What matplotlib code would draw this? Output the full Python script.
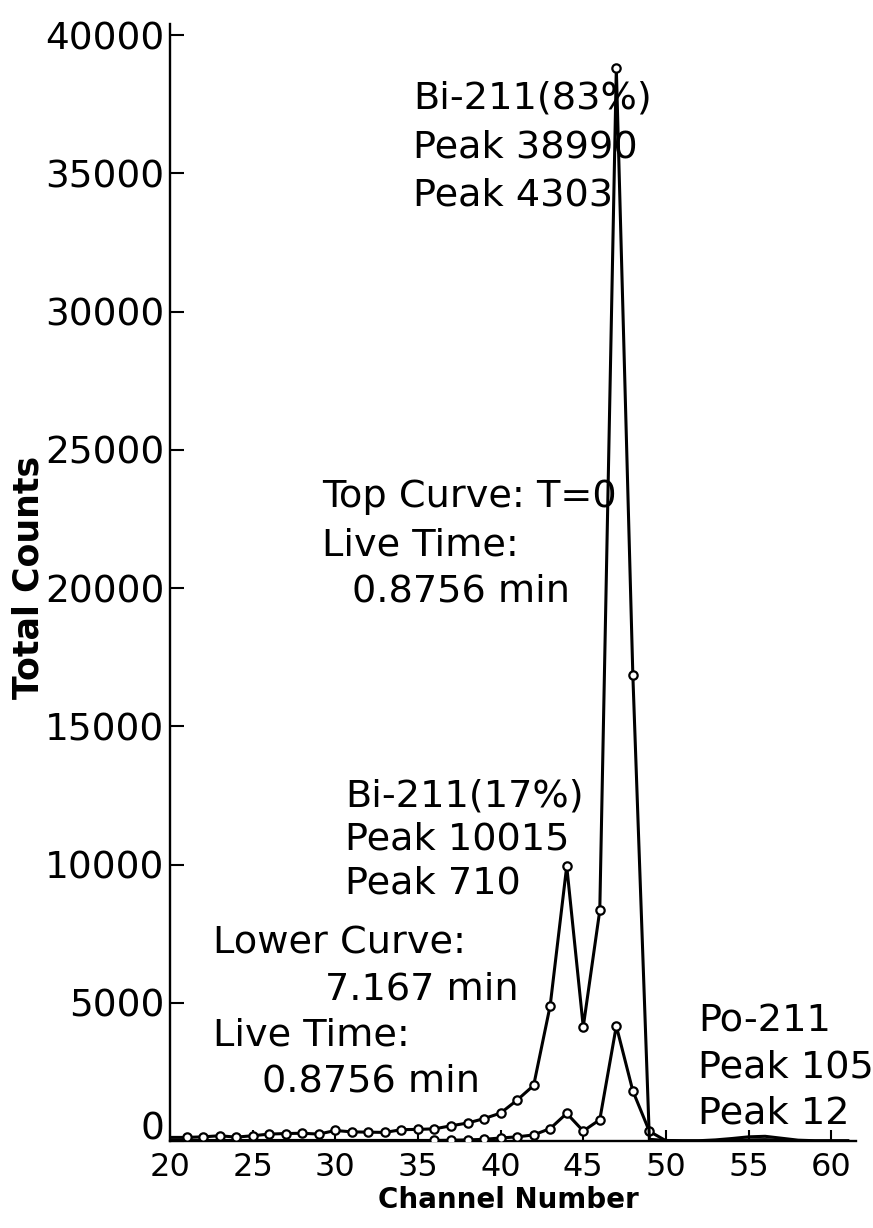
import matplotlib
matplotlib.use("Agg")
import matplotlib.pyplot as plt
import matplotlib.transforms as mtransforms
import numpy as np

# ---------------- data ----------------
channels = list(range(20, 62))

top_counts = [130, 130, 150, 190, 140, 190, 250, 270, 280, 250,
              380, 330, 320, 310, 410, 420, 440, 550, 650, 810,
              1010, 1480, 2010, 4900, 9940, 4130, 8340, 38800, 16850, 60,
              20, 10, 10, 40, 90, 150, 170, 100, 30, 10,
              10, 10]

lower_counts = [20, 20, 20, 20, 20, 20, 20, 20, 20, 20,
                20, 20, 20, 20, 20, 20, 20, 30, 40, 60,
                110, 150, 220, 450, 1000, 360, 770, 4160, 1810, 350,
                10, 0, 0, 10, 20, 40, 50, 25, 10, 0,
                0, 0]

top_marked = (21, 48)     # channels carrying circle markers
lower_marked = (36, 49)

x_ticks = [20, 25, 30, 35, 40, 45, 50, 55, 60]
y_ticks = [0, 5000, 10000, 15000, 20000, 25000, 30000, 35000, 40000]

annotations = [
    ("Bi-211(83%)", 413, 98),
    ("Peak 38990", 413, 148),
    ("Peak 4303", 413, 196),
    ("Top Curve: T=0", 322, 497),
    ("Live Time:", 322, 545),
    ("0.8756 min", 352, 592),
    ("Bi-211(17%)", 345, 796),
    ("Peak 10015", 345, 840),
    ("Peak 710", 345, 884),
    ("Lower Curve:", 213, 943),
    ("7.167 min", 325, 990),
    ("Live Time:", 213, 1035),
    ("0.8756 min", 262, 1082),
    ("Po-211", 698, 1022),
    ("Peak 105", 698, 1068),
    ("Peak 12", 698, 1113),
]

# ---------------- figure ----------------
W, H = 873, 1228
fig = plt.figure(figsize=(W / 100, H / 100), dpi=100)
fig.patch.set_facecolor("white")

left_px, right_px = 170, 856
bottom_px, top_px = 1141, 24
ax = fig.add_axes([left_px / W, 1 - bottom_px / H,
                   (right_px - left_px) / W, (bottom_px - top_px) / H])

ch = np.array(channels)
top = np.array(top_counts)
low = np.array(lower_counts)

top_mask = [i for i, c in enumerate(channels) if top_marked[0] <= c <= top_marked[1]]
low_mask = [i for i, c in enumerate(channels) if lower_marked[0] <= c <= lower_marked[1]]

line_kw = dict(color="black", linewidth=2.2, marker="o", markersize=6.0,
               markerfacecolor="white", markeredgecolor="black",
               markeredgewidth=1.6, solid_joinstyle="miter")
ax.plot(ch, low, markevery=low_mask, zorder=3, **line_kw)
ax.plot(ch, top, markevery=top_mask, zorder=4, **line_kw)

ax.set_xlim(20, 61.5)
ax.set_ylim(0, 40400)
ax.set_xticks(x_ticks)
ax.set_yticks(y_ticks)
ax.set_yticklabels([str(v) for v in y_ticks])

for s in ("top", "right"):
    ax.spines[s].set_visible(False)
for s in ("left", "bottom"):
    ax.spines[s].set_linewidth(1.7)

ax.tick_params(axis="y", direction="in", length=10, width=1.5,
               labelsize=27, pad=4)
ax.tick_params(axis="x", direction="in", length=8, width=1.5,
               labelsize=23, pad=8)

# lift the "0" label slightly, as in the reference, so it clears the "20"
ylabels = ax.get_yticklabels()
shift = mtransforms.ScaledTranslation(0, 15 / 100, fig.dpi_scale_trans)
ylabels[0].set_transform(ylabels[0].get_transform() + shift)

fig.text(508 / W, 1 - 1200 / H, "Channel Number", ha="center", va="center",
         fontsize=20, fontweight="bold")
fig.text(29 / W, 1 - 577 / H, "Total Counts", ha="center", va="center",
         rotation=90, fontsize=25, fontweight="bold")

for txt, xp, yp in annotations:
    fig.text(xp / W, 1 - yp / H, txt, ha="left", va="center", fontsize=27.5)

fig.savefig("out.png", dpi=100, facecolor="white")
